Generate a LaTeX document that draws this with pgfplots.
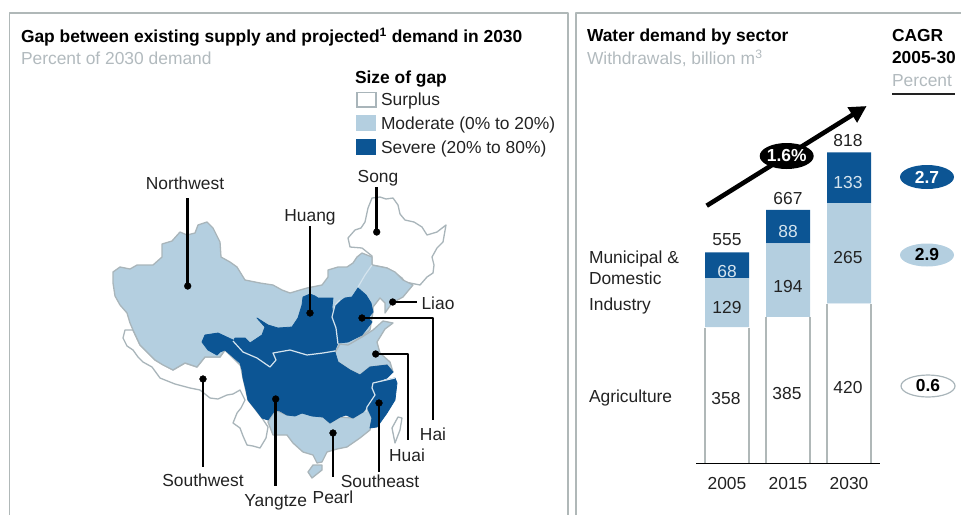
\documentclass[border=0pt]{standalone}
\usepackage{pgfplots}
\pgfplotsset{compat=1.18}
\usetikzlibrary{arrows.meta}
\usepackage{fontspec}
\setmainfont{Liberation Sans}
\definecolor{severe}{HTML}{0C5594}
\definecolor{moderate}{HTML}{B4CFE0}
\definecolor{edge}{HTML}{A9B5BA}
\definecolor{frame}{HTML}{B0B8B8}
\definecolor{subtle}{HTML}{B2BABE}
\definecolor{ink}{HTML}{222222}
\definecolor{seam}{HTML}{D5E4EE}
\newcommand{\tsize}{\fontsize{17.4}{20}\selectfont}
\newcommand{\bsize}{\fontsize{17.4}{20}\selectfont\bfseries}
% One leader line ending in a dot, for the basin labels
\newcommand{\leader}[2]{%
  \addplot[black,line width=2.6pt] coordinates {#1};
  \addplot[only marks,mark=*,mark size=3.4pt,black] coordinates {#2};}
\begin{document}
\begin{tikzpicture}[x=1pt,y=1pt,every node/.style={inner sep=0pt,outer sep=0pt}]
\path[use as bounding box] (0,0) rectangle (961,515);

% Water demand by sector, billion m3
\begin{axis}[
  at={(696pt,51.7pt)},anchor=south west,
  scale only axis,width=184pt,height=323pt,
  xmin=-0.508,xmax=2.508,ymin=0,ymax=850,
  ybar stacked,bar width=44pt,
  axis y line=none,axis x line*=bottom,axis on top,
  axis line style={black,line width=1.6pt},
  xtick={0,1,2},xticklabels={2005,2015,2030},
  major tick length=0pt,
  xticklabel style={font=\tsize,text=ink,yshift=-14pt},
]
\addplot[fill=white,draw=none] coordinates {(0,358) (1,385) (2,420)};
\addplot[fill=moderate,draw=none] coordinates {(0,129) (1,194) (2,265)};
\addplot[fill=severe,draw=none] coordinates {(0,68) (1,88) (2,133)};
\end{axis}

% Panel frames, map and annotations in a 961 x 515 grid
\begin{axis}[
  at={(0pt,0pt)},anchor=south west,
  scale only axis,width=961pt,height=515pt,
  xmin=0,xmax=961,ymin=0,ymax=515,y dir=reverse,
  hide axis,clip=false,
  every axis plot/.append style={line join=round},
]
\addplot[frame,line width=1.8pt] coordinates {(9.5,515) (9.5,13) (568,13) (568,515)};
\addplot[frame,line width=1.8pt] coordinates {(576,515) (576,13) (961,13)};

% Sides of the agriculture bars
\addplot[frame,line width=1.4pt] coordinates {(705,462.5) (705,327.5)};
\addplot[frame,line width=1.4pt] coordinates {(749,462.5) (749,327.5)};
\addplot[frame,line width=1.4pt] coordinates {(766,462.5) (766,317)};
\addplot[frame,line width=1.4pt] coordinates {(810,462.5) (810,317)};
\addplot[frame,line width=1.4pt] coordinates {(827,462.5) (827,304)};
\addplot[frame,line width=1.4pt] coordinates {(871,462.5) (871,304)};

% Surplus regions and islands
\addplot[fill=white,draw=edge,line width=1.3pt] coordinates {(125,330) (133,330) (140,345) (155,360) (173,370) (185,363) (197,367) (205,357) (220,357) (225,350) (240,363) (243,378) (248,400) (262,418) (268,427) (266,438) (260,448) (253,446) (247,445) (243,436) (240,428) (233,423) (237,413) (241,408) (245,400) (240,390) (233,394) (227,395) (218,399) (210,398) (200,390) (190,388) (175,384) (160,378) (152,367) (143,362) (138,357) (133,350) (127,346) (123,338)} --cycle;
\addplot[fill=white,draw=edge,line width=1.3pt] coordinates {(372,198) (380,197) (386,199) (393,198) (398,205) (400,214) (405,220) (414,222) (422,227) (427,235) (437,232) (446,225) (443,242) (437,248) (432,257) (434,265) (433,273) (427,277) (420,285) (410,283) (405,282) (402,278) (394,272) (387,268) (372,265) (372,256) (362,248) (350,247) (348,238) (355,230) (361,228) (365,222) (368,208)} --cycle;
\addplot[fill=white,draw=edge,line width=1.3pt] coordinates {(398,417) (392,428) (395,443) (400,430) (402,418)} --cycle;

% Moderate regions
\addplot[fill=moderate,draw=edge,line width=1.3pt] coordinates {(113,272) (120,267) (130,269) (137,265) (143,265) (153,265) (162,257) (162,244) (172,241) (180,232) (187,235) (195,233) (198,225) (207,222) (213,228) (217,236) (220,242) (221,257) (230,262) (237,267) (245,280) (260,283) (273,285) (282,290) (290,293) (300,290) (307,288) (322,285) (328,277) (328,270) (338,267) (347,267) (353,263) (357,257) (362,253) (372,257) (372,265) (387,268) (395,272) (403,280) (413,285) (403,297) (392,303) (385,313) (385,303) (380,298) (373,307) (373,312) (370,330) (350,345) (300,370) (240,365) (225,350) (220,357) (205,357) (197,367) (185,363) (173,370) (163,365) (155,360) (147,352) (140,345) (133,330) (130,323) (127,313) (120,305) (115,296) (113,283)} --cycle;
\addplot[fill=moderate,draw=edge,line width=1.3pt] coordinates {(268,422) (275,410) (287,415) (302,413) (323,417) (330,423) (340,417) (353,418) (363,412) (367,408) (372,418) (370,430) (360,438) (347,447) (337,449) (327,452) (322,462) (317,463) (313,455) (303,452) (293,443) (287,435) (273,435)} --cycle;
\addplot[fill=moderate,draw=edge,line width=1.3pt] coordinates {(333,356) (340,344) (348,345) (362,337) (373,330) (383,321) (393,323) (385,329) (377,342) (380,353) (390,362) (393,372) (387,365) (370,367) (360,375) (350,370) (338,362)} --cycle;
\addplot[fill=moderate,draw=edge,line width=1.3pt] coordinates {(308,472) (313,465) (322,465) (322,470) (312,478)} --cycle;

% Severe regions
\addplot[fill=severe,draw=severe,line width=0.8pt] coordinates {(202,342) (205,335) (218,333) (233,340) (243,352) (257,358) (270,367) (276,360) (273,353) (290,350) (307,355) (323,353) (335,352) (338,362) (350,370) (360,375) (370,367) (387,365) (393,372) (387,378) (373,383) (372,388) (375,395) (367,407) (363,412) (358,415) (353,418) (346,415) (340,417) (335,420) (330,423) (323,417) (312,416) (302,413) (295,416) (287,415) (280,411) (275,410) (268,420) (262,418) (256,410) (248,400) (246,390) (243,378) (242,370) (240,363) (225,350) (220,352) (217,355) (208,350)} --cycle;
\addplot[fill=severe,draw=severe,line width=0.8pt] coordinates {(235,338) (245,338) (250,343) (262,335) (265,327) (257,318) (268,325) (278,328) (292,327) (298,318) (302,305) (303,297) (310,294) (315,296) (318,298) (333,298) (332,307) (333,317) (336,328) (338,343) (335,350) (323,353) (307,355) (290,350) (273,353) (276,360) (270,367) (257,358) (243,352) (233,342)} --cycle;
\addplot[fill=severe,draw=severe,line width=0.8pt] coordinates {(358,288) (366,295) (371,303) (373,312) (368,318) (372,322) (362,335) (348,342) (338,343) (336,328) (332,317) (335,305) (345,298) (352,297)} --cycle;
\addplot[fill=severe,draw=severe,line width=0.8pt] coordinates {(395,378) (373,383) (372,388) (375,395) (367,407) (372,418) (370,428) (377,427) (387,413) (395,400) (397,383)} --cycle;

% Seams between neighbouring basins
\addplot[seam,line width=1.2pt] coordinates {(233,341) (243,352) (257,358) (270,367) (276,360) (273,353) (290,350) (307,355) (323,353) (335,351)};
\addplot[seam,line width=1.2pt] coordinates {(338,344) (336,328) (332,317) (335,305) (340,300)};
\addplot[seam,line width=1.2pt] coordinates {(395,378) (373,383) (372,388) (375,395) (367,407) (366,412)};
\addplot[seam,line width=1.2pt] coordinates {(372,265) (365,275) (358,287)};

% Leader lines
\leader{(187.7,198) (187.7,286)}{(187.7,286)}
\leader{(310,226) (310,313)}{(310,313)}
\leader{(376.7,187) (376.7,232)}{(376.7,232)}
\leader{(392.7,302) (417,302)}{(392.7,302)}
\leader{(362,318) (433,318) (433,420)}{(362,318)}
\leader{(375.7,354) (408,354) (408,440)}{(375.7,354)}
\leader{(379,403) (379,472)}{(379,403)}
\leader{(333,433) (333,477)}{(333,433)}
\leader{(275.7,399) (275.7,486)}{(275.7,399)}
\leader{(203,379) (203,467)}{(203,379)}

% Growth arrow
\addplot[black,line width=4.6pt,-{Triangle[length=17pt,width=17pt]}] coordinates {(706.7,205.7) (866.7,106)};

% CAGR rule
\addplot[ink,line width=1.4pt] coordinates {(892,94) (955,94)};

% Titles
\node[anchor=west,text=black] at (axis cs:21,37) {\bsize Gap between existing supply and projected\textsuperscript{1} demand in 2030};
\node[anchor=west,text=subtle] at (axis cs:21,58) {\tsize Percent of 2030 demand};
\node[anchor=west,text=black] at (axis cs:587,37) {\bsize Water demand by sector};
\node[anchor=west,text=subtle] at (axis cs:587,58) {\tsize Withdrawals, billion m\textsuperscript{3}};
\node[anchor=west,text=black] at (axis cs:892,36) {\bsize CAGR};
\node[anchor=west,text=black] at (axis cs:892,58) {\bsize 2005-30};
\node[anchor=west,text=subtle] at (axis cs:892,81) {\tsize Percent};

% Map key
\node[anchor=west,text=black] at (axis cs:355,79.5) {\bsize Size of gap};
\draw[edge,line width=1.3pt,fill=white] (axis cs:357,92.5) rectangle (axis cs:376,107);
\fill[moderate] (axis cs:356,115) rectangle (axis cs:376,131);
\fill[severe] (axis cs:356,139) rectangle (axis cs:376,155);
\node[anchor=west,text=ink] at (axis cs:381,101) {\tsize Surplus};
\node[anchor=west,text=ink] at (axis cs:381,124.5) {\tsize Moderate (0\% to 20\%)};
\node[anchor=west,text=ink] at (axis cs:381,148.5) {\tsize Severe (20\% to 80\%)};

% Basin names
\node[text=ink] at (axis cs:185,183) {\tsize Northwest};
\node[text=ink] at (axis cs:310,217) {\tsize Huang};
\node[text=ink] at (axis cs:378,178) {\tsize Song};
\node[text=ink] at (axis cs:438,303) {\tsize Liao};
\node[text=ink] at (axis cs:433,434) {\tsize Hai};
\node[text=ink] at (axis cs:407,455) {\tsize Huai};
\node[text=ink] at (axis cs:380,481) {\tsize Southeast};
\node[text=ink] at (axis cs:333,497) {\tsize Pearl};
\node[text=ink] at (axis cs:275.7,502) {\tsize Yangtze};
\node[text=ink] at (axis cs:203,480) {\tsize Southwest};

% Sector names
\node[anchor=west,text=ink] at (axis cs:589,259) {\tsize Municipal \&};
\node[anchor=west,text=ink] at (axis cs:589,278) {\tsize Domestic};
\node[anchor=west,text=ink] at (axis cs:589,306) {\tsize Industry};
\node[anchor=west,text=ink] at (axis cs:589,398) {\tsize Agriculture};

% Segment values and totals
\node[text=ink] at (axis cs:727,240) {\tsize 555};
\node[text=ink] at (axis cs:788,199) {\tsize 667};
\node[text=ink] at (axis cs:848,141) {\tsize 818};
\node[text=seam] at (axis cs:727,272) {\tsize 68};
\node[text=seam] at (axis cs:788,232) {\tsize 88};
\node[text=seam] at (axis cs:848,183) {\tsize 133};
\node[text=ink] at (axis cs:727,308) {\tsize 129};
\node[text=ink] at (axis cs:788,287) {\tsize 194};
\node[text=ink] at (axis cs:848,258) {\tsize 265};
\node[text=ink] at (axis cs:726,399) {\tsize 358};
\node[text=ink] at (axis cs:787,394) {\tsize 385};
\node[text=ink] at (axis cs:848,388) {\tsize 420};

% Growth-rate bubbles
\fill[black] (axis cs:786.7,156) ellipse [x radius=27pt,y radius=13pt];
\node[text=white] at (axis cs:786.7,156) {\bsize 1.6\%};
\fill[severe] (axis cs:927,177) ellipse [x radius=27pt,y radius=12pt];
\node[text=white] at (axis cs:927,177) {\bsize 2.7};
\fill[moderate] (axis cs:927,255) ellipse [x radius=27pt,y radius=11.5pt];
\node[text=black] at (axis cs:927,255) {\bsize 2.9};
\draw[edge,line width=1.2pt,fill=white] (axis cs:928,386) ellipse [x radius=27pt,y radius=11pt];
\node[text=black] at (axis cs:928,386) {\bsize 0.6};
\end{axis}
\end{tikzpicture}
\end{document}
